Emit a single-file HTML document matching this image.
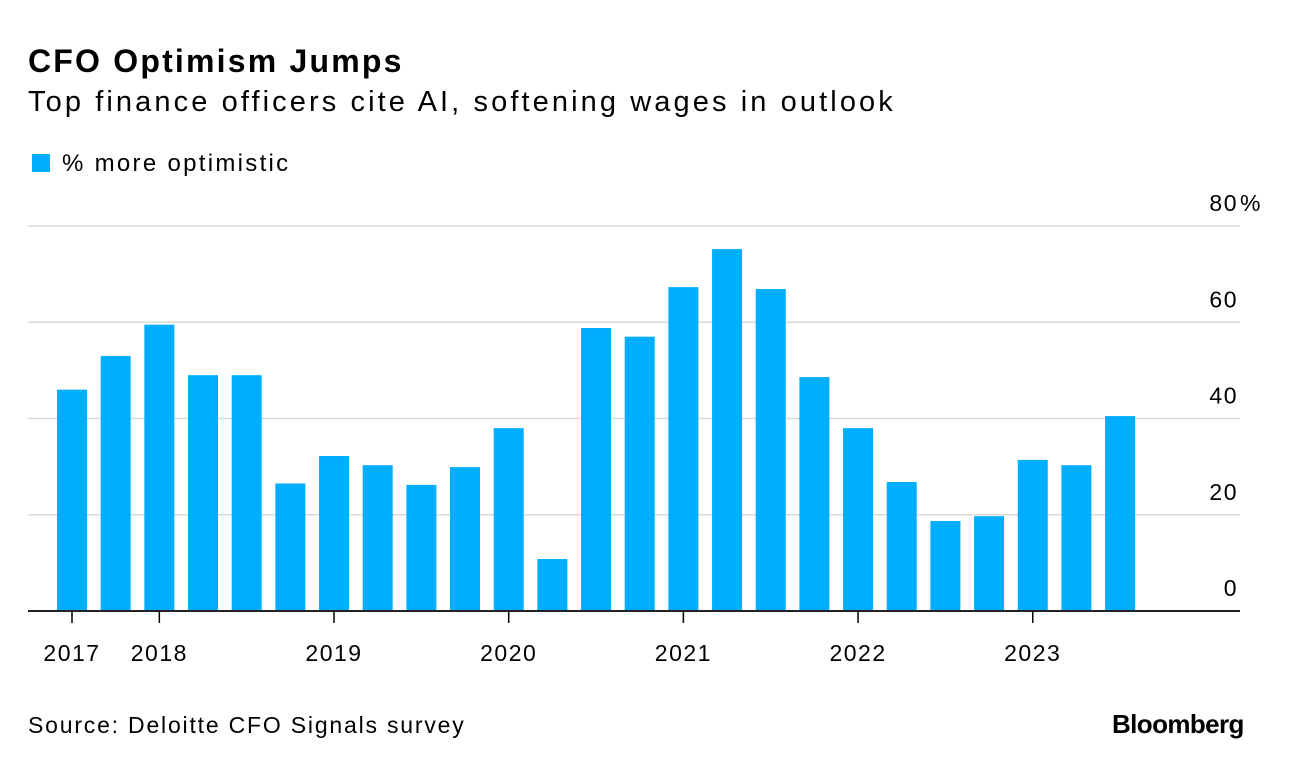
<!DOCTYPE html>
<html><head><meta charset="utf-8"><style>
body{margin:0;background:#fff;font-family:"Liberation Sans",sans-serif;}
#wrap{position:relative;width:1292px;height:768px;overflow:hidden;}
.t{position:absolute;white-space:nowrap;color:#000;}
</style></head><body>
<div id="wrap">
<div class="t" style="left:28px;top:43px;font-size:32px;font-weight:bold;letter-spacing:2.2px">CFO Optimism Jumps</div>
<div class="t" style="left:28px;top:86px;font-size:29px;letter-spacing:3.1px">Top finance officers cite AI, softening wages in outlook</div>
<div style="position:absolute;left:32px;top:154px;width:18px;height:18px;background:#00aeff"></div>
<div class="t" style="left:62px;top:150px;font-size:24px;letter-spacing:2.3px">% more optimistic</div>
<svg id="c" width="1292" height="768" style="position:absolute;left:0;top:0"></svg>
<div class="t" style="left:28px;top:712px;font-size:23px;letter-spacing:1.8px">Source: Deloitte CFO Signals survey</div>
<div class="t" style="left:1112px;top:709px;font-size:26px;font-weight:bold;letter-spacing:-0.6px">Bloomberg</div>
</div>
<script>
const values=[46,53,59.5,49,49,26.5,32.2,30.3,26.2,29.9,38,10.8,58.8,57,67.3,75.2,66.9,48.6,38,26.8,18.7,19.7,31.4,30.3,40.5];
const yTicks=[0,20,40,60,80];
const yTickLabels=["0","20","40","60","80"];
const xLabels=["2017","2018","2019","2020","2021","2022","2023"];
const xLabelIdx=[0,2,6,10,14,18,22];
const svg=document.getElementById('c');
const NS='http://www.w3.org/2000/svg';
const y0=611,pxPer=4.8125,bx0=57,pitch=43.67,bw=30;
const yScale=v=>y0-v*pxPer;
const xScale=i=>bx0+i*pitch;
function mk(t,a){const e=document.createElementNS(NS,t);for(const k in a)e.setAttribute(k,a[k]);svg.appendChild(e);return e;}
yTicks.forEach((v,i)=>{
 if(v>0){const g=mk('line',{x1:28,x2:1240,y1:yScale(v),y2:yScale(v),stroke:'#d9d9d9','stroke-width':1.5});
 
 }
 const t=mk('text',{x:1238,y:yScale(v)-15,'text-anchor':'end','font-size':23,'letter-spacing':1.5,'font-family':'Liberation Sans, sans-serif'});
 t.textContent=yTickLabels[i];
 
 
 if(i===yTicks.length-1){
  const p=mk('text',{x:1240,y:yScale(v)-15,'font-size':23,'font-family':'Liberation Sans, sans-serif'});
  p.textContent='%';
  
  
 }
});
values.forEach((v,i)=>{
 const r=mk('rect',{x:xScale(i),y:yScale(v),width:bw,height:y0-yScale(v),fill:'#00aeff'});
 
 
});
const ax=mk('line',{x1:28,x2:1240,y1:y0,y2:y0,stroke:'#222','stroke-width':2});


xLabels.forEach((l,j)=>{
 const cx=xScale(xLabelIdx[j])+bw/2;
 const tk=mk('line',{x1:cx,x2:cx,y1:y0,y2:y0+12,stroke:'#000','stroke-width':1.5});
 
 
 const t=mk('text',{x:cx,y:661,'text-anchor':'middle','font-size':23,'letter-spacing':1.5,'font-family':'Liberation Sans, sans-serif'});
 t.textContent=l;
 
 
});
</script>
</body></html>
